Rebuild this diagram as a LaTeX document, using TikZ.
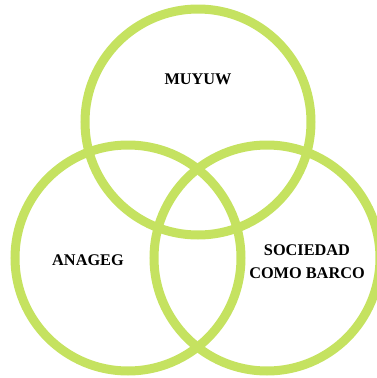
\documentclass[tikz,border=0pt]{standalone}
\usepackage{fontspec}
\setmainfont{Liberation Serif}
\usetikzlibrary{positioning}
\definecolor{ringgreen}{RGB}{197,226,96}

\begin{document}
\begin{tikzpicture}[
  x=1pt, y=-1pt,
  font=\bfseries\fontsize{16.3}{23}\selectfont,
  ring/.style={circle, draw=ringgreen, line width=9pt, minimum size=226pt, inner sep=0pt},
  lbl/.style={align=center, text=black, inner sep=0pt}
]
\useasboundingbox (0,0) rectangle (377,378);
\node[ring] (top)   at (198,122) {};
\node[ring] (left)  at (128,258) {};
\node[ring] (right) at (267,258) {};

\node[lbl] (muyuw)  at (198,79)  {MUYUW};
\node[lbl] (anageg) at (88,260)  {ANAGEG};
\node[lbl] (barco)  at (307,262) {SOCIEDAD\\COMO BARCO};
\end{tikzpicture}
\end{document}
